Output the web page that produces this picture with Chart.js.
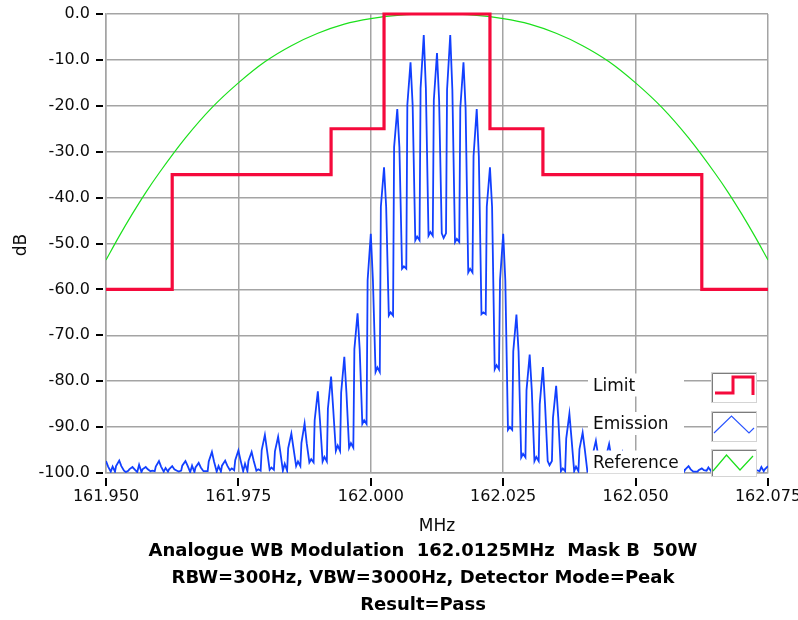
<!DOCTYPE html>
<html>
<head>
<meta charset="utf-8">
<script src="https://cdn.jsdelivr.net/npm/chart.js@4"></script>
<style>
  html, body { margin: 0; padding: 0; background: #fff; }
  #wrap { width: 798px; height: 620px; }
</style>
</head>
<body>
<div id="wrap"><canvas id="chart" width="798" height="620"></canvas></div>
<script>
// --- data ---
const xTickValues = [161.950, 161.975, 162.000, 162.025, 162.050, 162.075];
const yTickValues = [0, -10, -20, -30, -40, -50, -60, -70, -80, -90, -100];

// limit mask (step line)
const limitMHz = [161.950, 161.9625, 161.9625, 161.9925, 161.9925, 162.0025, 162.0025,
                  162.0225, 162.0225, 162.0325, 162.0325, 162.0625, 162.0625, 162.075];
const limitDb  = [-60, -60, -35, -35, -25, -25, 0, 0, -25, -25, -35, -35, -60, -60];

// reference curve
const refMHz = [161.950, 161.9525, 161.955, 161.9575, 161.960, 161.965, 161.970, 161.975,
                161.980, 161.985, 161.990, 161.995, 162.000, 162.005, 162.0125, 162.020,
                162.025, 162.030, 162.035, 162.040, 162.045, 162.050, 162.055, 162.060,
                162.065, 162.0675, 162.070, 162.0725, 162.075];
const refDb  = [-53.6, -48.4, -43.5, -38.9, -34.7, -27.0, -20.4, -15.0,
                -10.4, -6.9, -4.2, -2.2, -1.0, -0.3, 0, -0.3,
                -1.0, -2.2, -4.2, -6.9, -10.4, -15.0, -20.4, -27.0,
                -34.7, -38.9, -43.5, -48.4, -53.6];

// emission spectrum: spike frequencies, spike tops, spike shoulders,
// floor next to each spike and floor midway between spikes
const peakMHz = [161.9500, 161.9525, 161.9550, 161.9575, 161.9600, 161.9625, 161.9650, 161.9675,
                 161.9700, 161.9725, 161.9750, 161.9775, 161.9800, 161.9825, 161.9850, 161.9875,
                 161.9900, 161.9925, 161.9950, 161.9975, 162.0000, 162.0025, 162.0050, 162.0075,
                 162.0100, 162.0125, 162.0150, 162.0175, 162.0200, 162.0225, 162.0250, 162.0275,
                 162.0300, 162.0325, 162.0350, 162.0375, 162.0400, 162.0425, 162.0450, 162.0475,
                 162.0500, 162.0525, 162.0550, 162.0575, 162.0600, 162.0625, 162.0650, 162.0675,
                 162.0700, 162.0725, 162.0750];
const peakDb = [-97.4, -97.3, -98.7, -98.7, -97.4, -98.5, -97.4, -97.8,
                -95.4, -97.3, -95.1, -95.4, -91.7, -92.1, -91.4, -89.2,
                -82.2, -79.0, -74.7, -65.2, -47.9, -33.4, -20.7, -10.5,
                -4.6, -8.5, -4.6, -10.5, -20.7, -33.4, -47.9, -65.5,
                -74.2, -76.9, -81.0, -87.1, -91.2, -93.0, -93.7, -95.5,
                -96.0, -97.0, -97.0, -98.0, -98.5, -99.0, -98.0, -99.0,
                -99.0, -99.0, -98.5];
const shoulderDb = [-98.6, -98.5, -99.2, -99.2, -98.6, -99.2, -98.4, -98.8,
                    -97.5, -98.4, -97.2, -97.4, -95.0, -95.3, -94.6, -93.5,
                    -88.5, -86.0, -82.5, -73.0, -58.0, -42.0, -29.0, -19.8,
                    -16.2, -18.8, -16.5, -20.5, -31.0, -42.0, -58.0, -73.5,
                    -82.0, -85.0, -88.0, -92.5, -94.8, -96.0, -96.5, -97.5,
                    -98.0, -98.5, -98.5, -99.0, -99.2, -99.4, -99.0, -99.4,
                    -99.4, -99.4, -99.2];
const troughDb = [-99.7, -99.5, -99.8, -99.6, -99.7, -99.5, -99.8, -99.6,
                  -99.7, -99.4, -99.6, -99.5, -99.3, -99.5, -98.5, -97.7,
                  -97.5, -95.2, -94.5, -89.3, -78.0, -65.7, -55.5, -49.3,
                  -48.3, -47.8, -49.7, -56.3, -65.4, -77.4, -90.6, -96.6,
                  -97.4, -97.4, -99.6, -99.6, -99.7, -99.5, -99.8, -99.6,
                  -99.7, -99.5, -99.8, -99.6, -99.7, -99.5, -99.8, -99.6,
                  -99.7, -99.6];
const midDb = [-98.6, -99.8, -98.2, -99.5, -98.9, -99.7, -98.4, -99.6,
               -98.5, -99.0, -98.0, -99.2, -98.8, -98.0, -97.5, -97.0,
               -96.5, -94.0, -93.5, -88.5, -77.0, -65.0, -55.0, -48.5,
               -47.5, -48.8, -49.0, -55.5, -65.0, -76.5, -90.0, -95.8,
               -96.5, -98.3, -99.0, -98.6, -99.6, -98.8, -99.5, -98.7,
               -99.6, -98.9, -99.5, -98.6, -99.7, -98.8, -99.5, -98.9,
               -99.6, -98.7];

const titleLines = [
    "Analogue WB Modulation  162.0125MHz  Mask B  50W",
    "RBW=300Hz, VBW=3000Hz, Detector Mode=Peak",
    "Result=Pass"
];

// --- build point lists ---
const limitPts = limitMHz.map((x, i) => ({ x, y: limitDb[i] }));
const refPts = refMHz.map((x, i) => ({ x, y: refDb[i] }));

// each spike: foot, shoulder, top, shoulder, foot, then the floor to the next one
const emissionPts = [];
peakMHz.forEach((f, j) => {
    if (j > 0) {
        emissionPts.push({ x: f - 0.0008, y: troughDb[j - 1] });
        emissionPts.push({ x: f - 0.0006, y: shoulderDb[j] });
    }
    emissionPts.push({ x: f, y: peakDb[j] });
    emissionPts.push({ x: f + 0.0004, y: shoulderDb[j] });
    if (j < troughDb.length) {
        emissionPts.push({ x: f + 0.0009, y: troughDb[j] });
        emissionPts.push({ x: f + 0.00125, y: midDb[j] });
    }
});

const FONT = "'DejaVu Sans', sans-serif";
const GRID = '#a4a4a4';
const TEXT = '#0c0c0c';

// --- overlay: tick marks, axis names, legend, caption ---
const overlay = {
    id: 'overlay',
    afterDatasetsDraw(c) {
        const ctx = c.ctx;
        ctx.save();
        // legend labels with white backing
        const labels = [['Limit', 386.5], ['Emission', 425], ['Reference', 463.5]];
        ctx.font = "17px " + FONT;
        ctx.textBaseline = 'middle';
        labels.forEach(([t, cy]) => {
            ctx.fillStyle = '#fff';
            ctx.fillRect(588, cy - 13, 96, 23);
            ctx.fillStyle = TEXT;
            ctx.fillText(t, 593, cy);
        });
        // legend boxes
        [[372, 31], [411, 31], [449, 28]].forEach(([y, h]) => {
            ctx.fillStyle = '#fff';
            ctx.fillRect(711, y, 46, h);
            ctx.strokeStyle = '#d4d4d4';
            ctx.lineWidth = 1;
            ctx.strokeRect(711.5, y + 0.5, 45, h - 1);
            ctx.strokeStyle = '#7c7c7c';
            ctx.beginPath();
            ctx.moveTo(712.5, y + h - 1); ctx.lineTo(712.5, y + 1.5); ctx.lineTo(756, y + 1.5);
            ctx.stroke();
        });
        ctx.lineJoin = 'miter';
        ctx.strokeStyle = '#f50a3c'; ctx.lineWidth = 3;
        ctx.beginPath();
        ctx.moveTo(715, 393); ctx.lineTo(733, 393); ctx.lineTo(733, 377); ctx.lineTo(753, 377); ctx.lineTo(753, 395);
        ctx.stroke();
        ctx.strokeStyle = '#2a55ff'; ctx.lineWidth = 1.2;
        ctx.beginPath();
        ctx.moveTo(714, 433); ctx.lineTo(731.5, 416); ctx.lineTo(749, 433); ctx.lineTo(754, 428);
        ctx.stroke();
        ctx.strokeStyle = '#1be01b';
        ctx.beginPath();
        ctx.moveTo(713, 471); ctx.lineTo(726.5, 455); ctx.lineTo(740, 470); ctx.lineTo(753, 456);
        ctx.stroke();
        ctx.restore();
    },
    afterDraw(c) {
        const ctx = c.ctx, xs = c.scales.x, ys = c.scales.y, area = c.chartArea;
        ctx.save();
        ctx.strokeStyle = '#000'; ctx.lineWidth = 2;
        ctx.beginPath();
        yTickValues.forEach(v => {
            let p = Math.round(ys.getPixelForValue(v));
            ctx.moveTo(96, p); ctx.lineTo(103, p);
        });
        xTickValues.forEach(v => {
            let p = Math.round(xs.getPixelForValue(v));
            ctx.moveTo(p, area.bottom + 5); ctx.lineTo(p, area.bottom + 13);
        });
        ctx.stroke();

        ctx.fillStyle = TEXT;
        ctx.textAlign = 'center';
        ctx.textBaseline = 'middle';
        ctx.font = "17px " + FONT;
        ctx.fillText('MHz', (area.left + area.right) / 2, 527);
        ctx.save();
        ctx.translate(22, 245);
        ctx.rotate(-Math.PI / 2);
        ctx.fillText('dB', 0, 0);
        ctx.restore();

        ctx.fillStyle = '#000';
        ctx.font = "bold 18px " + FONT;
        titleLines.forEach((t, i) => ctx.fillText(t, 423, 551 + i * 27));
        ctx.restore();
    }
};

new Chart(document.getElementById('chart'), {
    type: 'line',
    data: {
        datasets: [
            { label: 'Reference', data: refPts, borderColor: '#1be01b', borderWidth: 1.2,
              pointRadius: 0, cubicInterpolationMode: 'monotone', order: 3 },
            { label: 'Emission', data: emissionPts, borderColor: '#1240ff', borderWidth: 1.8,
              pointRadius: 0, tension: 0, order: 2 },
            { label: 'Limit', data: limitPts, borderColor: '#f50a3c', borderWidth: 3.2,
              pointRadius: 0, tension: 0, clip: 3, order: 1, borderJoinStyle: 'miter' }
        ]
    },
    options: {
        responsive: false,
        animation: false,
        layout: { padding: { top: 14, right: 30, left: 0, bottom: 0 } },
        plugins: { legend: { display: false }, tooltip: { enabled: false } },
        scales: {
            x: {
                type: 'linear', min: 161.95, max: 162.075,
                afterBuildTicks: s => { s.ticks = xTickValues.map(v => ({ value: v })); },
                afterFit: s => { s.height = 147; s.paddingLeft = 0; s.paddingRight = 0; },
                ticks: { padding: 14, color: TEXT, font: { family: FONT, size: 16 },
                         maxRotation: 0, autoSkip: false, callback: v => v.toFixed(3) },
                grid: { color: GRID, lineWidth: 1.5, drawTicks: false },
                border: { color: GRID, width: 1.5 }
            },
            y: {
                min: -100, max: 0,
                afterBuildTicks: s => { s.ticks = yTickValues.map(v => ({ value: v })); },
                afterFit: s => { s.width = 106; s.paddingTop = 0; s.paddingBottom = 0; },
                ticks: { padding: 16, color: TEXT, font: { family: FONT, size: 16 },
                         callback: v => v.toFixed(1) },
                grid: { color: GRID, lineWidth: 1.5, drawTicks: false },
                border: { color: GRID, width: 1.5 }
            }
        }
    },
    plugins: [overlay]
});
</script>
</body>
</html>
